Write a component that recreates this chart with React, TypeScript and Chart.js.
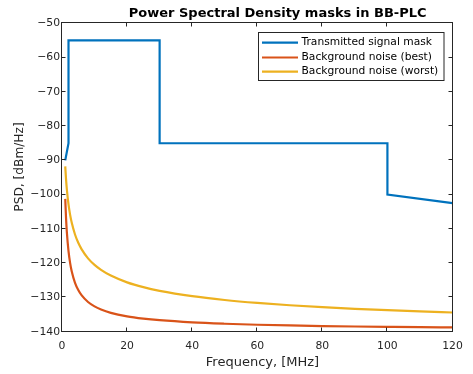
import React, { useEffect, useRef } from 'react';
import { Chart, registerables } from 'chart.js';

Chart.register(...registerables);

// ---------- data ----------
const titleText = 'Power Spectral Density masks in BB-PLC';
const xAxisLabel = 'Frequency, [MHz]';
const yAxisLabel = 'PSD, [dBm/Hz]';
const seriesLabels = ['Transmitted signal mask', 'Background noise (best)', 'Background noise (worst)'];
const seriesColors = ['#0072BD', '#D95319', '#EDB120'];

const maskFreq = [1, 2, 2, 30, 30, 100, 100, 120];
const maskPsd = [-90, -85, -55, -55, -85, -85, -100, -102.5];

const noiseFreq = [1, 1.25, 1.5, 2, 2.5, 3, 4, 5, 6, 8, 10, 12, 15, 20, 25, 30, 40, 50, 60, 70, 80, 90, 100, 110, 120];
const bestPsd = [-101.25, -107.0, -111.06, -116.47, -119.97, -122.43, -125.72, -127.84, -129.33, -131.33, -132.62, -133.52, -134.49, -135.52, -136.18, -136.65, -137.28, -137.68, -137.97, -138.18, -138.35, -138.48, -138.59, -138.69, -138.76];
const worstPsd = [-91.77, -95.62, -98.57, -102.86, -105.91, -108.24, -111.63, -114.06, -115.89, -118.59, -120.5, -121.96, -123.63, -125.6, -127.01, -128.08, -129.64, -130.75, -131.6, -132.28, -132.84, -133.32, -133.73, -134.08, -134.4];

const xMin = 0;
const xMax = 120;
const xStep = 20;
const yMin = -140;
const yMax = -50;
const yStep = 10;

const FONT = '"DejaVu Sans", Verdana, sans-serif';
const AXIS_COLOR = '#262626';

const fmtTick = (v: any) => String(v).replace('-', '\u2212');

const matlabPlugin = {
  id: 'matlabDecor',
  afterDatasetsDraw(chart: any) {
    const ctx = chart.ctx;
    const { left, right, top, bottom } = chart.chartArea;
    const xs = chart.scales.x;
    const ys = chart.scales.y;
    ctx.save();
    ctx.strokeStyle = AXIS_COLOR;
    ctx.lineWidth = 1;
    const L = Math.round(left) - 0.5;
    const R = Math.round(right) - 0.5;
    const T = Math.round(top) - 0.5;
    const B = Math.round(bottom) - 0.5;
    ctx.strokeRect(L, T, R - L, B - T);
    const tl = 4;
    ctx.beginPath();
    xs.ticks.forEach((t: any) => {
      const px = Math.round(xs.getPixelForValue(t.value)) - 0.5;
      ctx.moveTo(px, B);
      ctx.lineTo(px, B - tl);
      ctx.moveTo(px, T);
      ctx.lineTo(px, T + tl);
    });
    ys.ticks.forEach((t: any) => {
      const py = Math.round(ys.getPixelForValue(t.value)) - 0.5;
      ctx.moveTo(L, py);
      ctx.lineTo(L + tl, py);
      ctx.moveTo(R, py);
      ctx.lineTo(R - tl, py);
    });
    ctx.stroke();

    // legend
    const lx = 258.5, ly = 32.5, lw = 185.5, lh = 48;
    ctx.fillStyle = '#ffffff';
    ctx.fillRect(lx, ly, lw, lh);
    ctx.strokeStyle = AXIS_COLOR;
    ctx.strokeRect(lx, ly, lw, lh);
    const rowY = [42.7, 57.5, 71.7];
    ctx.font = `10.7px ${FONT}`;
    ctx.textBaseline = 'middle';
    ctx.textAlign = 'left';
    seriesLabels.forEach((lab, i) => {
      ctx.strokeStyle = seriesColors[i];
      ctx.lineWidth = 2.2;
      ctx.beginPath();
      ctx.moveTo(262, rowY[i]);
      ctx.lineTo(298, rowY[i]);
      ctx.stroke();
      ctx.fillStyle = '#000000';
      ctx.fillText(lab, 301.5, rowY[i]);
    });

    // title
    ctx.fillStyle = '#000000';
    ctx.font = `bold 13px ${FONT}`;
    ctx.textAlign = 'center';
    ctx.textBaseline = 'middle';
    ctx.fillText(titleText, 277.7, 13.5);

    // axis labels
    ctx.fillStyle = AXIS_COLOR;
    ctx.font = `13px ${FONT}`;
    ctx.fillText(xAxisLabel, 262.5, 363);
    ctx.font = `12.2px ${FONT}`;
    ctx.translate(20, 167);
    ctx.rotate(-Math.PI / 2);
    ctx.fillText(yAxisLabel, 0, 0);
    ctx.restore();
  },
};

export default function App() {
  const canvasRef = useRef<HTMLCanvasElement | null>(null);

  useEffect(() => {
    if (!canvasRef.current) return;
    const mk = (xsArr: number[], ysArr: number[]) => xsArr.map((x, i) => ({ x, y: ysArr[i] }));
    const chart = new Chart(canvasRef.current, {
      type: 'line',
      data: {
        datasets: [
          {
            label: seriesLabels[0],
            data: mk(maskFreq, maskPsd),
            borderColor: seriesColors[0],
            borderWidth: 2.2,
            pointRadius: 0,
            tension: 0,
            fill: false,
          },
          {
            label: seriesLabels[1],
            data: mk(noiseFreq, bestPsd),
            borderColor: seriesColors[1],
            borderWidth: 2.2,
            pointRadius: 0,
            cubicInterpolationMode: 'monotone',
            fill: false,
          },
          {
            label: seriesLabels[2],
            data: mk(noiseFreq, worstPsd),
            borderColor: seriesColors[2],
            borderWidth: 2.2,
            pointRadius: 0,
            cubicInterpolationMode: 'monotone',
            fill: false,
          },
        ],
      },
      options: {
        animation: false,
        responsive: false,
        maintainAspectRatio: false,
        devicePixelRatio: 1,
        layout: { padding: { left: 0, right: 20.5, top: 23.3, bottom: 0 } },
        plugins: {
          legend: { display: false },
          title: { display: false },
          tooltip: { enabled: false },
        },
        scales: {
          x: {
            type: 'linear',
            min: xMin,
            max: xMax,
            ticks: {
              stepSize: xStep,
              color: AXIS_COLOR,
              font: { family: FONT, size: 10.8 },
              padding: 8.5,
              maxRotation: 0,
              callback: fmtTick,
            },
            grid: { display: false, drawTicks: false },
            border: { display: false },
            afterFit: (s: any) => {
              s.height = 42.3;
            },
          },
          y: {
            type: 'linear',
            min: yMin,
            max: yMax,
            ticks: {
              stepSize: yStep,
              color: AXIS_COLOR,
              font: { family: FONT, size: 10.8 },
              padding: 2,
              callback: fmtTick,
            },
            grid: { display: false, drawTicks: false },
            border: { display: false },
            afterFit: (s: any) => {
              s.width = 62;
            },
          },
        },
      },
      plugins: [matlabPlugin],
    } as any);
    return () => chart.destroy();
  }, []);

  return (
    <div style={{ position: 'absolute', left: 0, top: 0, width: 473, height: 374, background: '#fff' }}>
      <canvas ref={canvasRef} width={473} height={374} style={{ width: 473, height: 374 }} />
    </div>
  );
}
